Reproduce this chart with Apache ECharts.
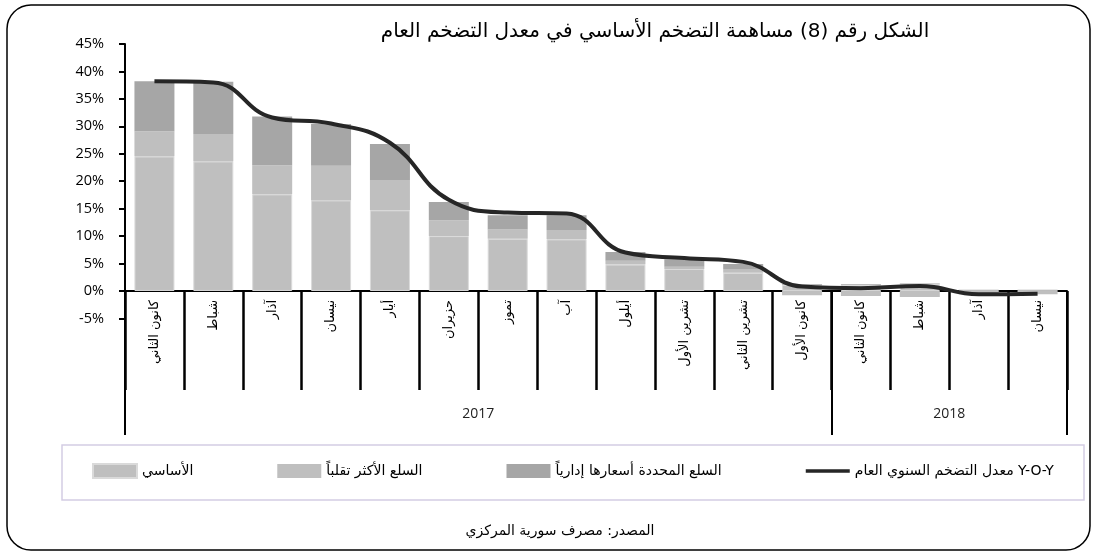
<!DOCTYPE html>
<html>
<head>
<meta charset="utf-8">
<script src="https://cdn.jsdelivr.net/npm/echarts@6/dist/echarts.min.js"></script>
<style>
  html, body { margin: 0; padding: 0; background: #fff; }
  #container { width: 1097px; height: 557px; }
</style>
</head>
<body>
<div id="container"></div>
<script>
// months of 2017 and the first four of 2018
const months = ['كانون الثاني', 'شباط', 'آذار', 'نيسان', 'أيار', 'حزيران', 'تموز', 'آب', 'أيلول',
  'تشرين الأول', 'تشرين الثاني', 'كانون الأول', 'كانون الثاني', 'شباط', 'آذار', 'نيسان'];
// boundaries between months, year label sits on the middle boundary of its group
const yearMarks = ['', '', '', '', '', '', '2017', '', '', '', '', '', '', '', '2018', '', ''];
const yearEdges = [0, 12, 16];
const yTicks = [-5, 45, 5];

const baseCore = [24.5, 23.6, 17.6, 16.5, 14.7, 10.0, 9.5, 9.4, 4.8, 4.0, 3.3, 1.1, 1.1, 1.3, 0.1, 0.1];
const volatileGoods = [4.6, 5.0, 5.3, 6.3, 5.5, 2.9, 1.7, 1.7, 0.7, 0.4, 0.7, -0.8, -0.9, -1.1, -0.6, -0.6];
const adminGoods = [9.1, 9.5, 8.9, 7.6, 6.6, 3.3, 2.6, 2.7, 1.6, 1.4, 0.9, 0.1, 0.1, 0.1, 0.1, 0.1];
const yoy = [38.2, 38.0, 31.6, 30.5, 27.0, 16.6, 14.3, 14.1, 7.0, 6.0, 5.3, 0.8, 0.5, 0.9, -0.6, -0.5];

const names = ['الأساسي', 'السلع الأكثر تقلباً', 'السلع المحددة أسعارها إدارياً', 'معدل التضخم السنوي العام Y-O-Y'];

const arabic = "'DejaVu Sans', sans-serif";
const gridTop = 44, gridBottomY = 318.4;
const zeroShift = (gridBottomY - gridTop) * (0 - yTicks[0]) / (yTicks[1] - yTicks[0]);
// thin bar in the middle of the legend slot (tiny end points keep the full slot height)
const lineIcon = 'path://M0,0L0.01,0M0,5.2L44,5.2L44,8.8L0,8.8ZM0,14L0.01,14';

const myChart = echarts.init(document.getElementById('container'));
const option = {
    animation: false,
    backgroundColor: '#fff',
    grid: { left: 125, right: 30, top: gridTop, bottom: 557 - gridBottomY },
    xAxis: [
        {
            type: 'category',
            data: months,
            position: 'bottom',
            offset: -zeroShift,
            axisLine: { onZero: false, lineStyle: { color: '#000', width: 2 } },
            axisTick: { alignWithLabel: true, length: 5, lineStyle: { color: '#000', width: 1.5 } },
            axisLabel: { interval: 0, rotate: 90, margin: 9, fontSize: 13, color: '#000', fontFamily: arabic },
        },
        {
            type: 'category',
            data: yearMarks,
            boundaryGap: false,
            position: 'bottom',
            offset: -zeroShift,
            axisLine: { show: false, onZero: false },
            axisTick: { interval: 0, length: 99, lineStyle: { color: '#000', width: 2.5 } },
            axisLabel: { show: false },
        },
        {
            type: 'category',
            data: yearMarks,
            boundaryGap: false,
            position: 'bottom',
            offset: -zeroShift,
            axisLine: { show: false, onZero: false },
            axisTick: {
                interval: (i) => yearEdges.includes(i),
                length: 144,
                lineStyle: { color: '#000', width: 2 }
            },
            axisLabel: { interval: 0, margin: 116, fontSize: 14, color: '#222', fontFamily: "'Open Sans', sans-serif" },
        },
    ],
    yAxis: {
        type: 'value',
        min: yTicks[0],
        max: yTicks[1],
        interval: yTicks[2],
        axisLine: { show: true, lineStyle: { color: '#000', width: 2 } },
        axisTick: { show: true, length: 6, lineStyle: { color: '#000', width: 2 } },
        splitLine: { show: false },
        axisLabel: { formatter: '{value}%', fontSize: 14.5, color: '#000', margin: 21, fontFamily: "'Open Sans', sans-serif" },
    },
    legend: {
        data: [
            { name: names[0], icon: 'rect' },
            { name: names[1], icon: 'rect' },
            { name: names[2], icon: 'rect' },
            { name: names[3], icon: lineIcon }
        ],
        left: 87,
        top: 458,
        itemWidth: 44,
        itemHeight: 14,
        itemGap: 84,
        textStyle: { fontSize: 14, color: '#000', fontFamily: arabic },
    },
    series: [
        {
            name: names[0],
            type: 'bar',
            stack: 'infl',
            barWidth: 40,
            data: baseCore,
            itemStyle: { color: '#bfbfbf', borderColor: '#dadada', borderWidth: 1 },
        },
        {
            name: names[1],
            type: 'bar',
            stack: 'infl',
            barWidth: 40,
            data: volatileGoods,
            itemStyle: { color: '#bfbfbf' },
        },
        {
            name: names[2],
            type: 'bar',
            stack: 'infl',
            barWidth: 40,
            data: adminGoods,
            itemStyle: { color: '#a6a6a6' },
        },
        {
            name: names[3],
            type: 'line',
            data: yoy,
            smooth: 0.45,
            symbol: 'none',
            z: 5,
            lineStyle: { color: '#262626', width: 4 },
            itemStyle: { color: '#262626' },
        },
    ],
    graphic: [
        {
            type: 'rect',
            shape: { x: 7, y: 5, width: 1083, height: 545, r: 24 },
            style: { fill: 'none', stroke: '#000', lineWidth: 1.5 },
            silent: true,
        },
        {
            type: 'rect',
            shape: { x: 62, y: 445, width: 1022, height: 55 },
            style: { fill: 'none', stroke: '#d4cde4', lineWidth: 1.5 },
            silent: true,
        },
        {
            type: 'text',
            x: 655,
            y: 22,
            style: { text: 'الشكل رقم (8) مساهمة التضخم الأساسي في معدل التضخم العام', textAlign: 'center', font: "20px 'DejaVu Sans', sans-serif", fill: '#000' },
        },
        {
            type: 'text',
            x: 560,
            y: 524,
            style: { text: 'المصدر: مصرف سورية المركزي', textAlign: 'center', font: "14px 'DejaVu Sans', sans-serif", fill: '#000' },
        },
    ],
};
myChart.setOption(option);
window.addEventListener('resize', () => {
    myChart.resize()
})
</script>
</body>
</html>
